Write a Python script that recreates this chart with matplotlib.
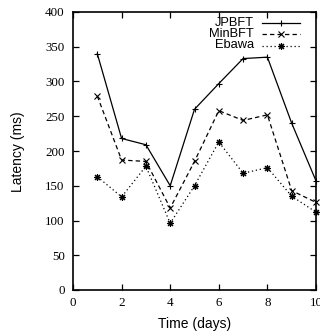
import matplotlib
matplotlib.use("Agg")
import matplotlib.pyplot as plt
from matplotlib.lines import Line2D

days = [1, 2, 3, 4, 5, 6, 7, 8, 9, 10]
jpbft = [340, 218, 209, 150, 260, 297, 333, 335, 240, 157]
minbft = [279, 187, 185, 118, 185, 258, 244, 252, 143, 126]
ebawa = [163, 134, 178, 96, 150, 213, 168, 176, 135, 112]
series_names = ["JPBFT", "MinBFT", "Ebawa"]
xticks = [0, 2, 4, 6, 8, 10]
yticks = [0, 50, 100, 150, 200, 250, 300, 350, 400]

W, H = 320, 332
fig = plt.figure(figsize=(W / 100, H / 100), dpi=100)
L, R, T, B = 73, 316, 12, 290
ax = fig.add_axes([L / W, 1 - B / H, (R - L) / W, (B - T) / H])

lw = 0.9
styles = [
    dict(marker="+", linestyle="-", ms=5),
    dict(marker="x", linestyle=(0, (3.5, 2.5)), ms=4),
    dict(marker=(8, 2, 0), linestyle=(0, (1, 2.2)), ms=5),
]
for vals, st in zip([jpbft, minbft, ebawa], styles):
    ax.plot(days, vals, color="black", lw=lw, mew=0.8, clip_on=False, **st)

ax.set_xlim(0, 10)
ax.set_ylim(0, 400)
ax.set_xticks(xticks)
ax.set_yticks(yticks)
serif = "Liberation Serif"
sans = "Liberation Sans"
ax.tick_params(direction="in", length=4.5, width=0.9, top=True, right=True,
               labelsize=9.4)
ax.tick_params(axis="y", pad=6)
ax.tick_params(axis="x", pad=5)
for lab in ax.get_xticklabels() + ax.get_yticklabels():
    lab.set_fontfamily(serif)
for s in ax.spines.values():
    s.set_linewidth(1.2)

ax.set_xlabel("Time (days)", fontfamily=sans, fontsize=10)
ax.set_ylabel("Latency (ms)", fontfamily=sans, fontsize=10)
ax.xaxis.set_label_coords(0.5, (B - 317) / (B - T))
ax.yaxis.set_label_coords((25 - L) / (R - L), (B - 152) / (B - T))

# key, gnuplot-style (text right-aligned, then sample)
rows_px = [22.5, 34, 45.5]
tx = (254 - L) / (R - L)
x0 = (262 - L) / (R - L)
x1 = (300 - L) / (R - L)
xm = (x0 + x1) / 2
for name, st, ypx in zip(series_names, styles, rows_px):
    yy = (B - ypx) / (B - T)
    ax.text(tx, yy, name, transform=ax.transAxes, ha="right", va="center",
            fontfamily=sans, fontsize=9.3)
    ax.add_line(Line2D([x0, x1], [yy, yy], transform=ax.transAxes, color="black",
                       lw=lw, linestyle=st["linestyle"], clip_on=False))
    ax.add_line(Line2D([xm], [yy], transform=ax.transAxes, color="black",
                       marker=st["marker"], ms=st["ms"], mew=0.8, linestyle="none",
                       clip_on=False))

fig.savefig("out.png", dpi=100)
